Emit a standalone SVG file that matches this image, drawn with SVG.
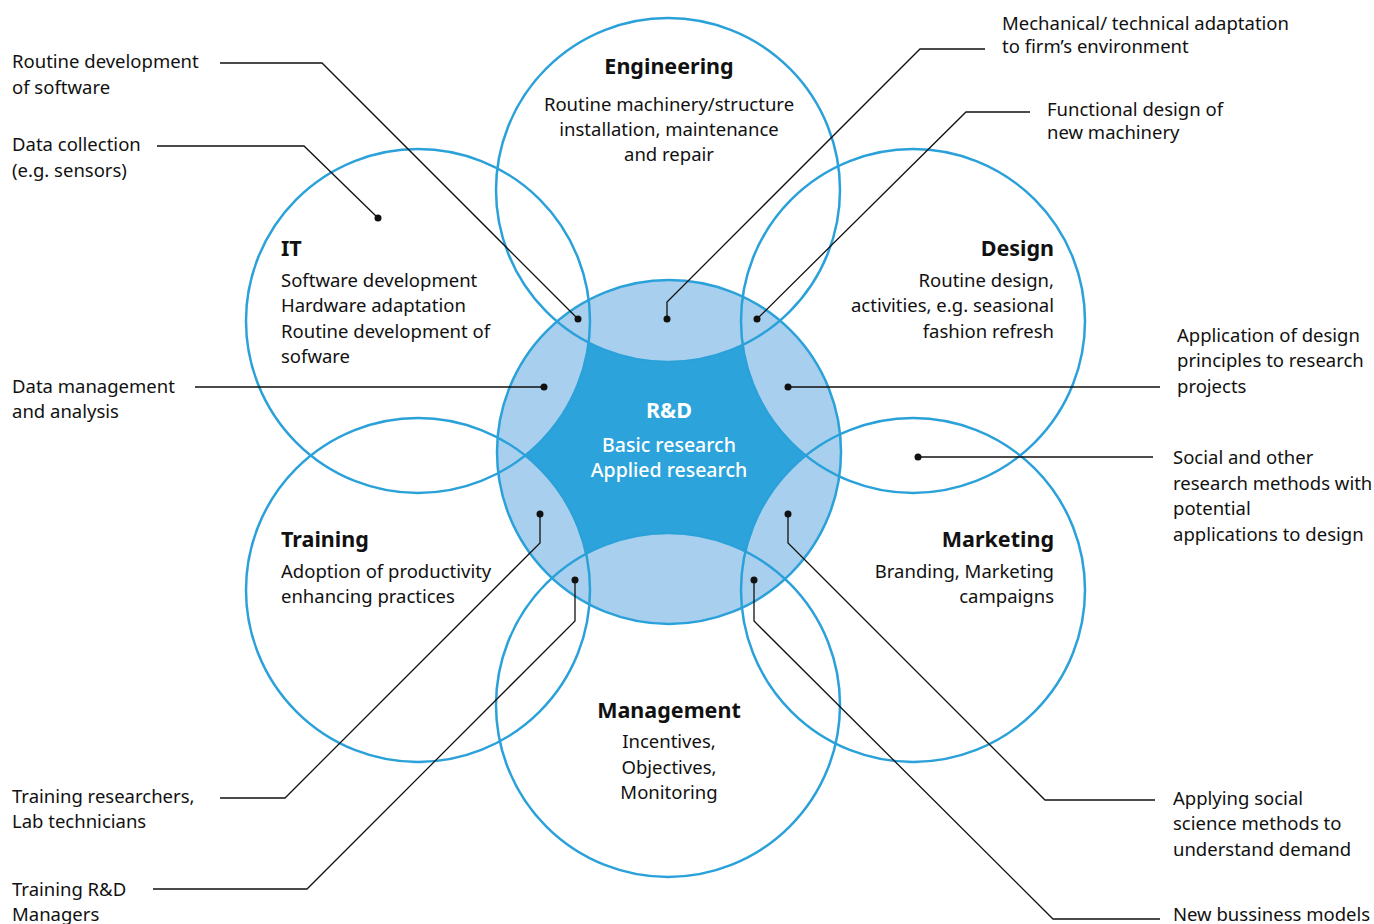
<svg xmlns="http://www.w3.org/2000/svg" width="1374" height="924" viewBox="0 0 1374 924">
<style>
text{font-family:"Noto Sans","Liberation Sans",sans-serif;font-size:18.5px;fill:#111}
.t{font-weight:bold;font-size:21.5px}
.w{fill:#fff;font-size:19.5px;font-weight:500}
.w.t{font-weight:bold;font-size:21.5px}
.c{text-anchor:middle}
.r{text-anchor:end}
.ring{fill:none;stroke:#2ba1da;stroke-width:2.5}
.ln{fill:none;stroke:#111;stroke-width:1.3}
.dot{fill:#111}
</style>
<defs>
<mask id="m">
<rect width="1374" height="924" fill="#fff"/>
<circle cx="668" cy="190" r="172" fill="#000"/>
<circle cx="418" cy="321" r="172" fill="#000"/>
<circle cx="913" cy="321" r="172" fill="#000"/>
<circle cx="418" cy="590" r="172" fill="#000"/>
<circle cx="913" cy="590" r="172" fill="#000"/>
<circle cx="668" cy="705" r="172" fill="#000"/>
</mask>
</defs>
<rect width="1374" height="924" fill="#fff"/>
<g id="rd">
<circle cx="669" cy="452" r="172" fill="#a8d0ee"/>
<circle cx="669" cy="452" r="172" fill="#2ca3db" mask="url(#m)"/>
<circle cx="669" cy="452" r="172" class="ring"/>
<text x="669" y="418" class="c w t">R&amp;D</text>
<text x="669" y="452" class="c w">Basic research</text>
<text x="669" y="477" class="c w">Applied research</text>
</g>
<g id="engineering">
<circle cx="668" cy="190" r="172" class="ring"/>
<text x="669" y="74" class="c t">Engineering</text>
<text x="669" y="111" class="c">Routine machinery/structure</text>
<text x="669" y="136" class="c">installation, maintenance</text>
<text x="669" y="161" class="c">and repair</text>
</g>
<g id="it">
<circle cx="418" cy="321" r="172" class="ring"/>
<text x="281" y="256" class="t">IT</text>
<text x="281" y="287">Software development</text>
<text x="281" y="312">Hardware adaptation</text>
<text x="281" y="338">Routine development of</text>
<text x="281" y="363">sofware</text>
</g>
<g id="design">
<circle cx="913" cy="321" r="172" class="ring"/>
<text x="1054" y="256" class="r t">Design</text>
<text x="1054" y="287" class="r">Routine design,</text>
<text x="1054" y="312" class="r">activities, e.g. seasional</text>
<text x="1054" y="338" class="r">fashion refresh</text>
</g>
<g id="training">
<circle cx="418" cy="590" r="172" class="ring"/>
<text x="281" y="547" class="t">Training</text>
<text x="281" y="578">Adoption of productivity</text>
<text x="281" y="603">enhancing practices</text>
</g>
<g id="marketing">
<circle cx="913" cy="590" r="172" class="ring"/>
<text x="1054" y="547" class="r t">Marketing</text>
<text x="1054" y="578" class="r">Branding, Marketing</text>
<text x="1054" y="603" class="r">campaigns</text>
</g>
<g id="management">
<circle cx="668" cy="705" r="172" class="ring"/>
<text x="669" y="718" class="c t">Management</text>
<text x="669" y="748" class="c">Incentives,</text>
<text x="669" y="774" class="c">Objectives,</text>
<text x="669" y="799" class="c">Monitoring</text>
</g>
<g id="labels">
<text x="12" y="68">Routine development</text>
<text x="12" y="94">of software</text>
<text x="12" y="151">Data collection</text>
<text x="12" y="177">(e.g. sensors)</text>
<text x="1002" y="30">Mechanical/ technical adaptation</text>
<text x="1002" y="53">to firm’s environment</text>
<text x="1047" y="116">Functional design of</text>
<text x="1047" y="139">new machinery</text>
<text x="12" y="393">Data management</text>
<text x="12" y="418">and analysis</text>
<text x="1177" y="342">Application of design</text>
<text x="1177" y="367">principles to research</text>
<text x="1177" y="393">projects</text>
<text x="1173" y="464">Social and other</text>
<text x="1173" y="490">research methods with</text>
<text x="1173" y="515">potential</text>
<text x="1173" y="541">applications to design</text>
<text x="12" y="803">Training researchers,</text>
<text x="12" y="828">Lab technicians</text>
<text x="12" y="896">Training R&amp;D</text>
<text x="12" y="921">Managers</text>
<text x="1173" y="805">Applying social</text>
<text x="1173" y="830">science methods to</text>
<text x="1173" y="856">understand demand</text>
<text x="1173" y="921">New bussiness models</text>
</g>
<g id="connectors">
<polyline class="ln" points="220,63 322,63 578,319"/>
<polyline class="ln" points="157,146 304,146 378,218"/>
<polyline class="ln" points="985,49 920,49 667,302 667,319"/>
<polyline class="ln" points="1030,112 966,112 757,319"/>
<polyline class="ln" points="195,387 544,387"/>
<polyline class="ln" points="1160,387 788,387"/>
<polyline class="ln" points="1153,457 918,457"/>
<polyline class="ln" points="220,798 285,798 540,543 540,514"/>
<polyline class="ln" points="153,889 307,889 575,621 575,580"/>
<polyline class="ln" points="1155,800 1045,800 788,543 788,514"/>
<polyline class="ln" points="1160,919 1053,919 754,621 754,580"/>
<circle class="dot" cx="578" cy="319" r="3.5"/>
<circle class="dot" cx="378" cy="218" r="3.5"/>
<circle class="dot" cx="667" cy="319" r="3.5"/>
<circle class="dot" cx="757" cy="319" r="3.5"/>
<circle class="dot" cx="544" cy="387" r="3.5"/>
<circle class="dot" cx="788" cy="387" r="3.5"/>
<circle class="dot" cx="918" cy="457" r="3.5"/>
<circle class="dot" cx="540" cy="514" r="3.5"/>
<circle class="dot" cx="575" cy="580" r="3.5"/>
<circle class="dot" cx="788" cy="514" r="3.5"/>
<circle class="dot" cx="754" cy="580" r="3.5"/>
</g>
</svg>
